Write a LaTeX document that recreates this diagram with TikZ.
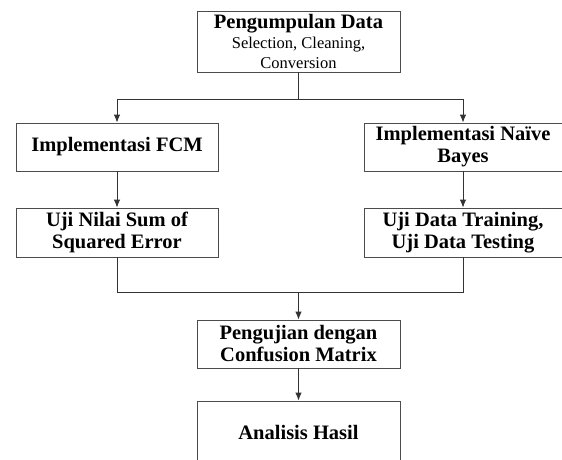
\documentclass[tikz,border=0pt]{standalone}
\usepackage{fontspec}
\setmainfont{Liberation Serif}
\usetikzlibrary{arrows.meta, positioning}

\begin{document}
\begin{tikzpicture}[x=1pt, y=-1pt,
    box/.style={rectangle, draw=black!70, line width=0.9pt, fill=white, align=center, inner sep=0pt, font=\fontsize{20.5}{22}\selectfont\bfseries},
    conn/.style={-{Latex[length=8pt, width=6.5pt]}, line width=0.9pt, black!80},
    line/.style={line width=0.9pt, black!80}
]
\useasboundingbox (0,0) rectangle (562,459);
\clip (0,0) rectangle (562,459);

\node[box, minimum width=203pt, minimum height=61pt] (data) at (298.5,41.5) {Pengumpulan Data\\[-2pt]{\fontsize{16.5}{20}\selectfont\mdseries Selection, Cleaning,}\\[-2pt]{\fontsize{16.5}{20}\selectfont\mdseries Conversion}};
\node[box, minimum width=202pt, minimum height=48pt] (fcm) at (117,147) {Implementasi FCM};
\node[box, minimum width=198pt, minimum height=48pt] (nb) at (463,147) {Implementasi Na\"ive\\Bayes};
\node[box, minimum width=202pt, minimum height=49pt] (sse) at (117,232.5) {Uji Nilai Sum of\\Squared Error};
\node[box, minimum width=198pt, minimum height=49pt] (uji) at (463,232.5) {Uji Data Training,\\Uji Data Testing};
\node[box, minimum width=203pt, minimum height=48pt] (cm) at (298.5,344) {Pengujian dengan\\Confusion Matrix};
\node[box, minimum width=203pt, minimum height=62pt] (hasil) at (298.5,432) {Analisis Hasil};

\coordinate (split) at (298.5,99);
\coordinate (join) at (298.5,292);

\draw[line] (data) -- (split);
\draw[conn] (split) -| (fcm);
\draw[conn] (split) -| (nb);
\draw[conn] (fcm) -- (sse);
\draw[conn] (nb) -- (uji);
\draw[line] (sse) |- (join);
\draw[line] (uji) |- (join);
\draw[conn] (join) -- (cm);
\draw[conn] (cm) -- (hasil);
\end{tikzpicture}
\end{document}
